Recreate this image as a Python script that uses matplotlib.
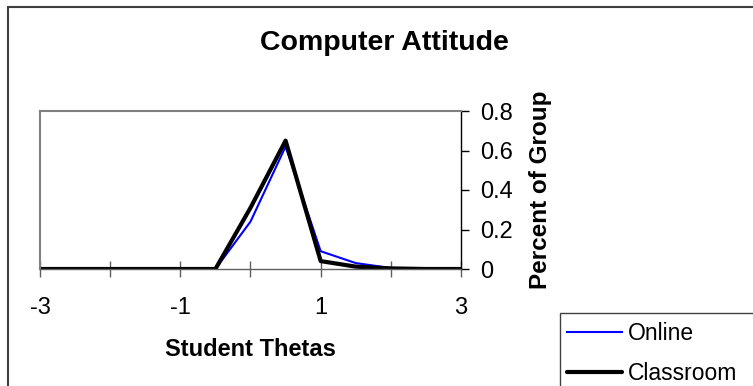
import matplotlib
matplotlib.use("Agg")
import matplotlib.pyplot as plt
import matplotlib.patches as patches

plt.rcParams['font.family'] = ['Liberation Sans', 'DejaVu Sans']

thetas = [-3, -2.5, -2, -1.5, -1, -0.5, 0, 0.5, 1, 1.5, 2, 2.5, 3]
online = [0, 0, 0, 0, 0, 0, 0.24, 0.62, 0.09, 0.03, 0.005, 0, 0]
classroom = [0, 0, 0, 0, 0, 0, 0.31, 0.65, 0.04, 0.012, 0.003, 0, 0]
xticks = [-3, -2, -1, 0, 1, 2, 3]
xlabels = ['-3', '', '-1', '', '1', '', '3']
yticks = [0, 0.2, 0.4, 0.6, 0.8]
ylabels = ['0', '0.2', '0.4', '0.6', '0.8']

W, H = 753, 386
fig = plt.figure(figsize=(W / 100, H / 100), dpi=100)
ax = fig.add_axes([40 / W, 1 - 269 / H, (461 - 40) / W, (269 - 111) / H])

ax.plot(thetas, online, color='#0000ff', lw=1.5, label='Online')
ax.plot(thetas, classroom, color='black', lw=3, label='Classroom',
        solid_capstyle='round')

ax.set_xlim(-3, 3)
ax.set_ylim(0, 0.8)
ax.set_xticks(xticks)
ax.set_xticklabels(xlabels)
ax.set_yticks(yticks)
ax.set_yticklabels(ylabels)
ax.yaxis.tick_right()
ax.yaxis.set_label_position('right')

ax.tick_params(axis='x', direction='inout', length=11, width=1,
               color='#606060', labelsize=17, pad=15)
ax.tick_params(axis='y', direction='out', length=6, width=1,
               color='black', labelsize=17, pad=8)

ax.spines['top'].set_color('#808080')
ax.spines['top'].set_linewidth(1.5)
ax.spines['left'].set_color('#808080')
ax.spines['left'].set_linewidth(1.5)
ax.spines['right'].set_color('black')
ax.spines['right'].set_linewidth(1)
ax.spines['bottom'].set_color('#606060')
ax.spines['bottom'].set_linewidth(1)

ax.set_xlabel('Student Thetas', fontsize=17, fontweight='bold', labelpad=13)
ax.set_ylabel('Percent of Group', fontsize=17.5, fontweight='bold', labelpad=11)

fig.text(384 / W, 1 - 43 / H, 'Computer Attitude', fontsize=20.5,
         fontweight='bold', ha='center', va='center')

# chart border, cut off at right and bottom
fig.patches.append(patches.Rectangle((8 / W, -0.5), 2, 1 - 7 / H + 0.5,
                                     transform=fig.transFigure, fill=False,
                                     edgecolor='#404040', lw=1.5))
# legend box, also cut off
fig.patches.append(patches.Rectangle((560 / W, -0.5), 2, 1 - 313 / H + 0.5,
                                     transform=fig.transFigure, fill=False,
                                     edgecolor='#404040', lw=1))
ax.legend(loc='upper left', bbox_to_anchor=(567 / W, 1 - 322 / H),
          bbox_transform=fig.transFigure, frameon=False, fontsize=16.5,
          handlelength=2.4, handletextpad=0.25, labelspacing=0.75,
          borderpad=0, borderaxespad=0)

fig.savefig('out.png', dpi=100)
